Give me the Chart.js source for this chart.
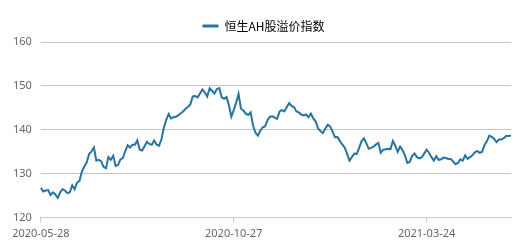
<!DOCTYPE html>
<html>
<head>
<meta charset="utf-8">
<script src="https://cdn.jsdelivr.net/npm/chart.js@4/dist/chart.umd.min.js"></script>
<style>
  html, body { margin: 0; padding: 0; background: #fff; }
  #wrap { width: 522px; height: 244px; }
</style>
</head>
<body>
<div id="wrap"><canvas id="myChart" width="522" height="244"></canvas></div>
<script>
// series name and x tick labels
const seriesName = '恒生AH股溢价指数';
const tickLabels = ['2020-05-28', '2020-10-27', '2021-03-24'];
const tickIndex = [0, 80, 160];
const yTicks = [120, 130, 140, 150, 160];

// index values, one per point
const ahPremium = [
  126.8, 126.0, 126.2, 126.3, 125.2, 125.8, 125.3, 124.5, 125.8, 126.5,
  126.2, 125.6, 125.8, 127.4, 126.5, 128.0, 128.4, 130.5, 131.6, 132.6,
  134.5, 135.1, 136.0, 133.0, 133.2, 132.9, 131.6, 131.3, 133.8, 133.2,
  134.1, 131.8, 132.0, 133.3, 133.6, 135.2, 136.5, 136.0, 136.6, 136.6,
  137.6, 135.5, 135.3, 136.3, 137.3, 136.8, 136.6, 137.6, 136.7, 136.4,
  137.8, 140.5, 142.3, 143.6, 142.6, 142.9, 143.0, 143.3, 143.8, 144.2,
  144.8, 145.2, 145.8, 147.6, 147.7, 147.4, 148.3, 149.2, 148.5, 147.6,
  149.5, 148.9, 148.3, 149.3, 149.5, 147.4, 147.1, 147.5, 145.6, 143.0,
  144.5, 146.2, 148.2, 144.8, 144.4, 143.7, 143.4, 144.0, 141.0, 139.4,
  138.7, 139.8, 140.6, 140.8, 142.2, 143.0, 143.1, 142.8, 142.5, 144.2,
  144.5, 144.2, 145.2, 146.1, 145.4, 145.2, 144.2, 144.0, 143.5, 143.3,
  143.5, 142.9, 143.7, 142.6, 141.9, 140.3, 139.7, 139.3, 140.3, 141.2,
  140.8, 139.6, 138.3, 138.4, 137.5, 136.7, 136.0, 134.6, 133.0, 133.8,
  134.6, 134.5, 135.9, 137.4, 138.1, 137.0, 135.7, 135.9, 136.2, 136.7,
  137.0, 134.8, 135.5, 135.6, 135.7, 135.6, 137.5, 136.4, 135.0, 136.2,
  135.4, 134.2, 132.5, 132.7, 134.1, 134.6, 133.8, 133.5, 133.8, 134.6,
  135.5, 134.8, 133.8, 133.0, 134.0, 133.2, 133.3, 133.7, 133.6, 133.4,
  133.4, 132.8, 132.2, 132.5, 133.3, 133.0, 134.2, 133.4, 133.8, 134.2,
  134.9, 135.2, 134.8, 135.0, 136.6, 137.4, 138.7, 138.4, 138.0, 137.2,
  137.8, 137.8, 138.1, 138.6, 138.6, 138.7
];

const labels = ahPremium.map((v, i) => {
  const k = tickIndex.indexOf(i);
  return k >= 0 ? tickLabels[k] : '';
});

const lineColor = '#2874a0';
const textColor = '#666666';

// nudge the legend a little to the right, like the original
const legendShift = {
  id: 'legendShift',
  afterLayout(chart) {
    chart.legend.left += 6;
    chart.legend.right += 6;
  }
};

new Chart(document.getElementById('myChart'), {
  type: 'line',
  data: {
    labels: labels,
    datasets: [{
      label: seriesName,
      data: ahPremium,
      borderColor: lineColor,
      backgroundColor: lineColor,
      borderWidth: 2,
      pointRadius: 0,
      tension: 0
    }]
  },
  plugins: [legendShift],
  options: {
    responsive: false,
    animation: false,
    layout: { padding: { left: 4, right: 11, top: 8, bottom: 0 } },
    plugins: {
      legend: {
        display: true,
        position: 'top',
        labels: {
          boxWidth: 16,
          boxHeight: 3,
          color: '#555555',
          font: { family: '"Noto Sans CJK SC", "Noto Sans", sans-serif', size: 12 },
          padding: 12,
          generateLabels: chart => [{
            text: seriesName,
            fillStyle: lineColor,
            strokeStyle: lineColor,
            lineWidth: 0,
            datasetIndex: 0
          }]
        }
      },
      tooltip: { enabled: false }
    },
    scales: {
      x: {
        afterBuildTicks: scale => { scale.ticks = tickIndex.map(v => ({ value: v })); },
        ticks: {
          autoSkip: false,
          maxRotation: 0,
          color: textColor,
          padding: 4,
          font: { family: '"Noto Sans", sans-serif', size: 11 },
          callback: (val) => labels[val]
        },
        grid: {
          drawOnChartArea: false,
          drawTicks: true,
          tickLength: 5,
          color: '#c6d1dd'
        },
        border: { display: true, color: '#c6d1dd', width: 1 }
      },
      y: {
        min: 120,
        max: 160,
        afterBuildTicks: scale => { scale.ticks = yTicks.map(v => ({ value: v })); },
        ticks: {
          color: textColor,
          padding: 9,
          font: { family: '"Noto Sans", sans-serif', size: 11 }
        },
        grid: {
          drawTicks: false,
          color: ctx => ctx.tick && ctx.tick.value === 120 ? 'rgba(0,0,0,0)' : '#c3c3c3'
        },
        border: { display: false }
      }
    }
  }
});
</script>
</body>
</html>
